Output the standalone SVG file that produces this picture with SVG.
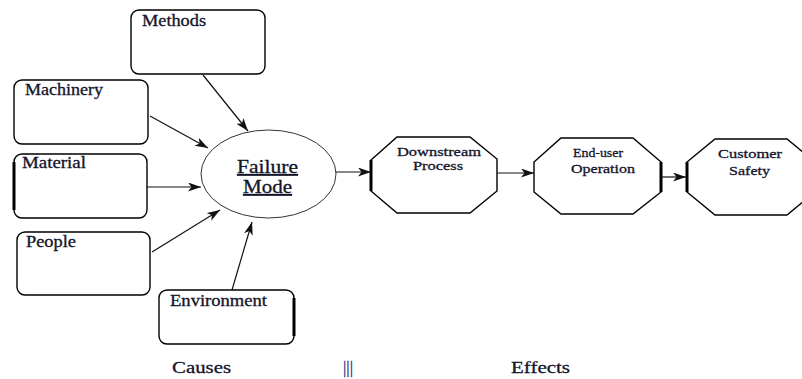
<svg xmlns="http://www.w3.org/2000/svg" width="802" height="379" viewBox="0 0 802 379">
  <style>
    .box { fill: #fff; stroke: #000; stroke-width: 1.4; }
    .oct { fill: #fff; stroke: #000; stroke-width: 1.4; }
    .thick { stroke: #000; stroke-width: 3; }
    text { font-family: "Liberation Serif", "Times New Roman", serif; fill: #14142a; stroke: #14142a; stroke-width: 0.3; }
    .lbl { font-size: 16px; }
    .olbl { font-size: 13px; text-anchor: middle; }
    .big { font-size: 18px; text-anchor: middle; text-decoration: underline; }
    .foot { font-size: 17px; }
    .bars { fill: #34348a; stroke: #34348a; }
    .edge { stroke: #111; stroke-width: 1.2; fill: none; marker-end: url(#arr); }
  </style>
  <defs>
    <marker id="arr" markerUnits="userSpaceOnUse" markerWidth="14" markerHeight="10" refX="13" refY="4.5" orient="auto">
      <path d="M0,0 L13,4.5 L0,9 L3.5,4.5 z" fill="#111"/>
    </marker>
  </defs>

  <g id="methods">
    <rect class="box" x="131" y="10" width="134" height="64" rx="8"/>
    <text class="lbl" x="142" y="26" textLength="64" lengthAdjust="spacingAndGlyphs">Methods</text>
  </g>
  <g id="machinery">
    <rect class="box" x="14" y="80" width="134" height="64" rx="8"/>
    <text class="lbl" x="25" y="95" textLength="78" lengthAdjust="spacingAndGlyphs">Machinery</text>
  </g>
  <g id="material">
    <rect class="box" x="14" y="154" width="133" height="64" rx="8"/>
    <line class="thick" x1="14" y1="162" x2="14" y2="210"/>
    <text class="lbl" x="22" y="168" textLength="64" lengthAdjust="spacingAndGlyphs">Material</text>
  </g>
  <g id="people">
    <rect class="box" x="17" y="232" width="133" height="63" rx="8"/>
    <text class="lbl" x="26" y="247" textLength="50" lengthAdjust="spacingAndGlyphs">People</text>
  </g>
  <g id="environment">
    <rect class="box" x="159" y="290" width="135" height="54" rx="8"/>
    <line class="thick" x1="294" y1="298" x2="294" y2="336"/>
    <text class="lbl" x="170" y="306" textLength="97" lengthAdjust="spacingAndGlyphs">Environment</text>
  </g>

  <g id="failure-mode">
    <ellipse cx="268.5" cy="174" rx="67.5" ry="44" fill="#fff" stroke="#333" stroke-width="1"/>
    <text class="big" x="267.5" y="173" textLength="61" lengthAdjust="spacingAndGlyphs">Failure</text>
    <text class="big" x="267.5" y="193" textLength="49" lengthAdjust="spacingAndGlyphs">Mode</text>
  </g>

  <g id="downstream">
    <polygon class="oct" points="397,137 470,137 497,159 497,191 470,213 397,213 371,191 371,160"/>
    <line class="thick" x1="371" y1="160" x2="371" y2="191"/>
    <text class="olbl" x="439" y="156" textLength="84" lengthAdjust="spacingAndGlyphs">Downstream</text>
    <text class="olbl" x="438" y="170" textLength="50" lengthAdjust="spacingAndGlyphs">Process</text>
  </g>
  <g id="end-user">
    <polygon class="oct" points="561,138 633,138 661,162 661,192 633,214 561,214 534,192 534,162"/>
    <line class="thick" x1="661" y1="162" x2="661" y2="192"/>
    <text class="olbl" x="598" y="157" textLength="50" lengthAdjust="spacingAndGlyphs">End-user</text>
    <text class="olbl" x="603" y="173" textLength="64" lengthAdjust="spacingAndGlyphs">Operation</text>
  </g>
  <g id="customer-safety">
    <polygon class="oct" points="715,139 787,139 815,162 815,192 787,215 715,215 687,192 687,162"/>
    <line class="thick" x1="687" y1="162" x2="687" y2="192"/>
    <text class="olbl" x="750" y="158" textLength="64" lengthAdjust="spacingAndGlyphs">Customer</text>
    <text class="olbl" x="749.5" y="175" textLength="41" lengthAdjust="spacingAndGlyphs">Safety</text>
  </g>

  <g id="connectors">
    <line class="edge" x1="203" y1="75" x2="248" y2="131"/>
    <line class="edge" x1="150" y1="116" x2="208" y2="148"/>
    <line class="edge" x1="147" y1="187" x2="201" y2="187"/>
    <line class="edge" x1="152" y1="252" x2="220" y2="210"/>
    <line class="edge" x1="232" y1="290" x2="252" y2="222"/>
    <line class="edge" x1="336" y1="172" x2="371" y2="172"/>
    <line class="edge" x1="497" y1="173" x2="534" y2="173"/>
    <line class="edge" x1="661" y1="177" x2="686" y2="177"/>
  </g>

  <g id="footer">
    <text class="foot" x="172" y="373" textLength="59" lengthAdjust="spacingAndGlyphs">Causes</text>
    <text class="foot bars" x="343" y="373" textLength="10" lengthAdjust="spacingAndGlyphs">|||</text>
    <text class="foot" x="511" y="373" textLength="59" lengthAdjust="spacingAndGlyphs">Effects</text>
  </g>
</svg>
